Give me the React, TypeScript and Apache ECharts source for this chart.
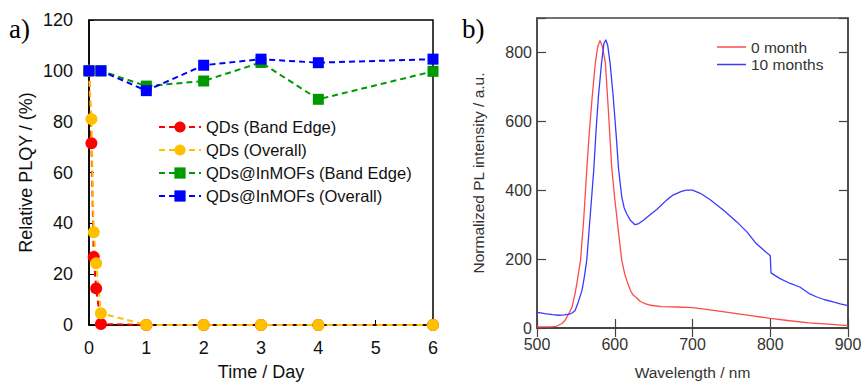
import React, { useEffect, useRef } from "react";
import * as echarts from "echarts";

// ---- Panel a) data ----
const qdBandX = [0, 0.042, 0.083, 0.125, 0.208, 1, 2, 3, 4, 6];
const qdBandY = [100, 71.5, 26.8, 14.4, 0.4, 0, 0, 0, 0, 0];
const qdOverallX = [0, 0.042, 0.083, 0.125, 0.208, 1, 2, 3, 4, 6];
const qdOverallY = [100, 81, 36.5, 24.3, 4.6, 0, 0, 0, 0, 0];
const mofBandX = [0, 0.208, 1, 2, 3, 4, 6];
const mofBandY = [100, 100, 94, 96, 103.3, 88.8, 99.8];
const mofOverallX = [0, 0.208, 1, 2, 3, 4, 6];
const mofOverallY = [100, 100, 92.2, 102.2, 104.6, 103.2, 104.6];

// ---- Panel b) data ----
const m0X = [500, 510, 520, 525, 532, 536, 541, 545, 549, 552, 556, 560, 564, 567, 571, 575, 578, 581, 584, 588, 592, 596, 600, 603, 606, 609, 613, 617, 621, 624, 628, 633, 639, 646, 660, 680, 700, 725, 750, 775, 800, 825, 850, 875, 900];
const m0Y = [3, 3, 4, 5, 13, 22, 42, 60, 100, 140, 197, 313, 459, 560, 672, 769, 815, 835, 818, 769, 624, 470, 375, 315, 255, 197, 155, 128, 105, 95, 88, 77, 71, 66, 62, 61, 59, 52, 44, 36, 28, 21, 15, 11, 7];
const m10X = [500, 505, 510, 520, 528, 535, 542, 546, 549, 553, 558, 561, 564, 568, 573, 576, 579, 583, 586, 588.5, 591, 594, 598, 602, 605, 609, 612, 615, 620, 626, 630, 637, 645, 654, 667, 675, 685, 692, 700, 710, 722, 740, 757, 770, 782, 792, 800, 801, 812, 825, 838, 850, 860, 870, 881, 890, 900];
const m10Y = [45, 44, 42, 39, 37, 38, 40, 45, 51, 75, 110, 150, 197, 313, 459, 575, 672, 769, 825, 837, 820, 769, 672, 555, 459, 381, 350, 333, 313, 300, 302, 313, 328, 344, 372, 386, 396, 400, 400, 391, 374, 342, 308, 279, 245, 225, 210, 160, 144, 130, 119, 100, 90, 82, 76, 70, 65];

const leftTicksX = [0, 6, 1];
const leftTicksY = [0, 120, 20];
const rightTicksX = [500, 900, 100];
const rightTicksY = [0, 900, 200];

const SANS = '"Liberation Sans", Arial, sans-serif';
const SERIF = '"Liberation Serif", "Times New Roman", serif';

const zip = (xs: number[], ys: number[]) => xs.map((x, i) => [x, ys[i]]);

export default function App() {
  const ref = useRef<HTMLDivElement>(null);
  useEffect(() => {
    if (!ref.current) return;
    const chart = echarts.init(ref.current, undefined, { renderer: "svg" });
    const markerLine = (name: string, xs: number[], ys: number[], color: string, symbol: string, size: number) => ({
      name,
      type: "line",
      xAxisIndex: 0,
      yAxisIndex: 0,
      data: zip(xs, ys),
      symbol,
      symbolSize: size,
      clip: false,
      lineStyle: { color, width: 2, type: [6, 4] },
      itemStyle: { color },
    });
    const option: any = {
      animation: false,
      textStyle: { fontFamily: SANS },
      grid: [
        { left: 89, top: 20, width: 344, height: 305, show: true, borderColor: "#000", borderWidth: 1.5, containLabel: false, outerBoundsMode: "none" },
        { left: 537, top: 18, width: 311, height: 310, show: true, borderColor: "#444", borderWidth: 1.5, containLabel: false, outerBoundsMode: "none" },
      ],
      xAxis: [
        {
          gridIndex: 0, type: "value", min: leftTicksX[0], max: leftTicksX[1], interval: leftTicksX[2],
          axisLine: { show: true, lineStyle: { color: "#000", width: 1.5 } },
          axisTick: { inside: true, length: 5, lineStyle: { color: "#000" } },
          axisLabel: { fontSize: 18, color: "#111", margin: 14, fontFamily: SANS },
          splitLine: { show: false },
          name: "Time / Day", nameLocation: "middle", nameGap: 38,
          nameTextStyle: { fontSize: 18, color: "#111", fontFamily: SANS },
        },
        {
          gridIndex: 1, type: "value", min: rightTicksX[0], max: rightTicksX[1], interval: rightTicksX[2],
          axisLine: { show: true, lineStyle: { color: "#444", width: 1.5 } },
          axisTick: { inside: true, length: 9, lineStyle: { color: "#444", width: 1.2 } },
          axisLabel: { fontSize: 16, color: "#333", margin: 8, fontFamily: SANS },
          splitLine: { show: false },
          name: "Wavelength / nm", nameLocation: "middle", nameGap: 36,
          nameTextStyle: { fontSize: 15.5, color: "#333", fontFamily: SANS },
        },
        {
          gridIndex: 1, type: "value", position: "top", min: rightTicksX[0], max: rightTicksX[1], interval: rightTicksX[2],
          axisLine: { show: true, lineStyle: { color: "#444", width: 1.5 } },
          axisTick: { inside: true, length: 9, lineStyle: { color: "#444", width: 1.2 } },
          axisLabel: { show: false },
          splitLine: { show: false },
        },
      ],
      yAxis: [
        {
          gridIndex: 0, type: "value", min: leftTicksY[0], max: leftTicksY[1], interval: leftTicksY[2],
          axisLine: { show: true, lineStyle: { color: "#000", width: 1.5 } },
          axisTick: { inside: true, length: 5, lineStyle: { color: "#000" } },
          axisLabel: { fontSize: 18, color: "#111", margin: 16, fontFamily: SANS },
          splitLine: { show: false },
          name: "Relative PLQY / (%)", nameLocation: "middle", nameGap: 54,
          nameTextStyle: { fontSize: 18, color: "#111", fontFamily: SANS },
        },
        {
          gridIndex: 1, type: "value", min: rightTicksY[0], max: rightTicksY[1], interval: rightTicksY[2],
          axisLine: { show: true, lineStyle: { color: "#444", width: 1.5 } },
          axisTick: { inside: true, length: 9, lineStyle: { color: "#444", width: 1.2 } },
          axisLabel: {
            fontSize: 16, color: "#333", margin: 5, fontFamily: SANS,
            formatter: (v: number) => (v > 800 ? "" : String(v)),
          },
          splitLine: { show: false },
          name: "Normalized PL intensity / a.u.", nameLocation: "middle", nameGap: 51,
          nameTextStyle: { fontSize: 15.5, color: "#333", fontFamily: SANS },
        },
        {
          gridIndex: 1, type: "value", position: "right", min: rightTicksY[0], max: rightTicksY[1], interval: rightTicksY[2],
          axisLine: { show: true, lineStyle: { color: "#444", width: 1.5 } },
          axisTick: { inside: true, length: 9, lineStyle: { color: "#444", width: 1.2 } },
          axisLabel: { show: false },
          splitLine: { show: false },
        },
      ],
      legend: [
        {
          data: ["QDs (Band Edge)", "QDs (Overall)", "QDs@InMOFs (Band Edge)", "QDs@InMOFs (Overall)"],
          orient: "vertical", left: 153, top: 113.5, itemWidth: 42, itemHeight: 14, itemGap: 6,
          textStyle: { fontSize: 16.5, color: "#111", fontFamily: SANS },
        },
        {
          data: [{ name: "0 month", icon: "rect" }, { name: "10 months", icon: "rect" }],
          orient: "vertical", left: 712, top: 34, itemWidth: 29, itemHeight: 1.5, itemGap: 1.5,
          textStyle: { fontSize: 15.5, color: "#333", fontFamily: SANS },
        },
      ],
      graphic: [
        { type: "text", left: 9, top: 15, style: { text: "a)", font: `27px ${SERIF}`, fill: "#000" } },
        { type: "text", left: 462, top: 15, style: { text: "b)", font: `27px ${SERIF}`, fill: "#000" } },
      ],
      series: [
        markerLine("QDs (Band Edge)", qdBandX, qdBandY, "#ff0000", "circle", 12),
        markerLine("QDs (Overall)", qdOverallX, qdOverallY, "#ffc000", "circle", 12),
        markerLine("QDs@InMOFs (Band Edge)", mofBandX, mofBandY, "#009a00", "rect", 11),
        markerLine("QDs@InMOFs (Overall)", mofOverallX, mofOverallY, "#0000ff", "rect", 11),
        {
          name: "0 month", type: "line", xAxisIndex: 1, yAxisIndex: 1, data: zip(m0X, m0Y),
          symbol: "none", showSymbol: false, lineStyle: { color: "#ff4a4a", width: 1.3 }, itemStyle: { color: "#ff4a4a" },
        },
        {
          name: "10 months", type: "line", xAxisIndex: 1, yAxisIndex: 1, data: zip(m10X, m10Y),
          symbol: "none", showSymbol: false, lineStyle: { color: "#3a3aff", width: 1.3 }, itemStyle: { color: "#3a3aff" },
        },
      ],
    };
    chart.setOption(option);
    return () => chart.dispose();
  }, []);
  return (
    <div
      ref={ref}
      style={{ position: "fixed", left: 0, top: 0, width: 861, height: 382, background: "#fff" }}
    />
  );
}
